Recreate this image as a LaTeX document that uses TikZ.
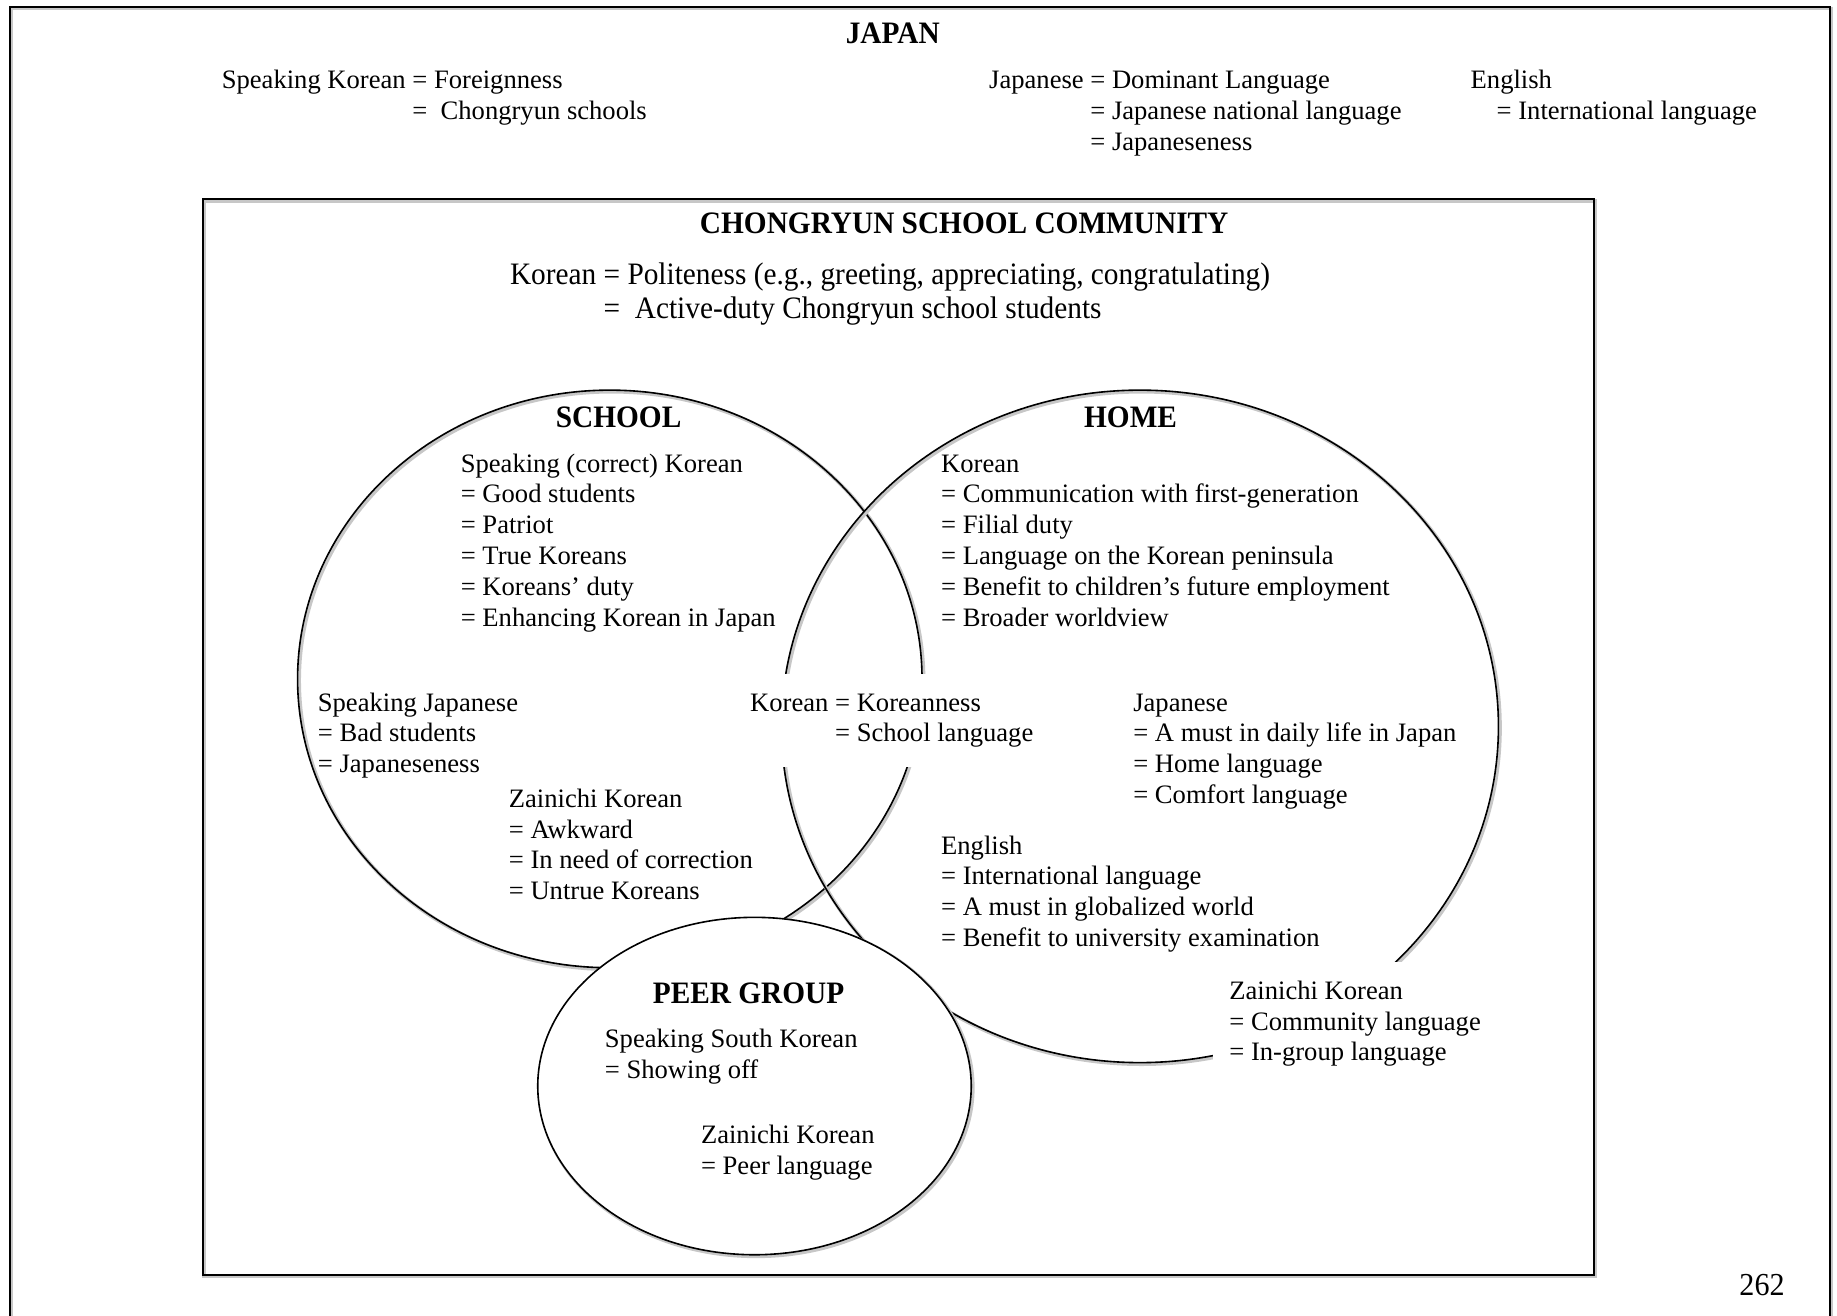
\documentclass[tikz,border=0pt]{standalone}
\usepackage{fontspec}
\setmainfont{Liberation Serif}
\newfontfamily\tallfont[FakeStretch=0.94]{Liberation Serif}
\usetikzlibrary{positioning, shapes.geometric}

\newcommand{\bodyfont}{\fontsize{13.3}{15.4}\selectfont}
\newcommand{\bigfont}{\tallfont\fontsize{15.6}{17}\selectfont}
\newcommand{\stack}[1]{\begin{tabular}[t]{@{}l@{}}#1\end{tabular}}
\newcommand{\eqstack}[1]{\begin{tabular}[t]{@{}l@{ }l@{}}#1\end{tabular}}
\def\px{0.5858pt}

\tikzset{
    txt/.style={inner sep=0pt, anchor=base west, font=\bodyfont},
    head/.style={inner sep=0pt, anchor=base, font=\bigfont\bfseries},
    mask/.style={fill=white, inner sep=8pt, xshift=-8pt},
    shade line/.style={preaction={draw=black!22, line width=1.8pt,
        transform canvas={shift={(0.8pt,-0.8pt)}}}},
    frame/.style={draw, line width=1pt, shade line},
    venn/.style={ellipse, draw, line width=0.8pt, shade line, inner sep=0pt},
}

\begin{document}
\begin{tikzpicture}[x=\px, y=-\px]
    \useasboundingbox (0,0) rectangle (1568,1123.25);

    % frames
    \draw[frame] (8.5,1130) -- (8.5,6) -- (1562,6) -- (1562,1130);
    \draw[frame] (173,170) rectangle (1360.5,1088);

    % japan
    \node[head] (japan) at (762,37) {JAPAN};
    \node[txt] (japanKorean) at (189,75.5)
        {\eqstack{Speaking Korean & = Foreignness\\ & =\ \ Chongryun schools}};
    \node[txt] (japanJapanese) at (844,75.5)
        {\eqstack{Japanese & = Dominant Language\\ & = Japanese national language\\ & = Japaneseness}};
    \node[txt] (japanEnglish) at (1255,75.5)
        {\stack{English\\\hspace{13pt}= International language}};

    % community
    \node[head] (community) at (823,199.5) {CHONGRYUN SCHOOL COMMUNITY};
    \node[txt, font=\bigfont] (politeness) at (435,242.5)
        {\eqstack{Korean & = Politeness (e.g., greeting, appreciating, congratulating)\\
         & =\ \ Active-duty Chongryun school students}};

    % school and home
    \node[venn, minimum width=533*\px, minimum height=493*\px] (school) at (520.5,579.5) {};
    \node[venn, minimum width=612*\px, minimum height=574*\px] (home) at (973,620) {};

    \node[head] (schoolHead) at (528,364.5) {SCHOOL};
    \node[txt] (schoolKorean) at (393,403)
        {\stack{Speaking (correct) Korean\\= Good students\\= Patriot\\= True Koreans\\= Koreans' duty\\= Enhancing Korean in Japan}};
    \node[txt] (schoolJapanese) at (271,607)
        {\stack{Speaking Japanese\\= Bad students\\= Japaneseness}};
    \node[txt] (schoolZainichi) at (434,689)
        {\stack{Zainichi Korean\\= Awkward\\= In need of correction\\= Untrue Koreans}};

    \node[head] (homeHead) at (965,364.5) {HOME};
    \node[txt] (homeKorean) at (803,403)
        {\stack{Korean\\= Communication with first-generation\\= Filial duty\\= Language on the Korean peninsula\\= Benefit to children's future employment\\= Broader worldview}};
    \node[txt] (homeJapanese) at (967,607)
        {\stack{Japanese\\= A must in daily life in Japan\\= Home language\\= Comfort language}};
    \node[txt] (homeEnglish) at (803,729)
        {\stack{English\\= International language\\= A must in globalized world\\= Benefit to university examination}};

    \node[txt, mask] (shared) at (640,607)
        {\eqstack{Korean & = Koreanness\\ & = School language}};
    \node[txt, mask] (homeZainichi) at (1049,853)
        {\stack{Zainichi Korean\\= Community language\\= In-group language}};

    % peer group
    \node[venn, fill=white, minimum width=370*\px, minimum height=288*\px] (peer) at (644,927) {};
    \node[head] (peerHead) at (639,856.5) {PEER GROUP};
    \node[txt] (peerSouth) at (516,894) {\stack{Speaking South Korean\\= Showing off}};
    \node[txt] (peerZainichi) at (598,976) {\stack{Zainichi Korean\\= Peer language}};

    \node[txt, anchor=base, font=\tallfont\fontsize{16}{18}\selectfont] (page) at (1504,1106) {262};
\end{tikzpicture}
\end{document}
